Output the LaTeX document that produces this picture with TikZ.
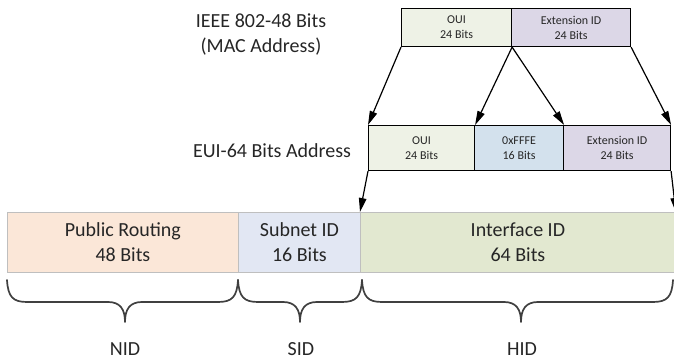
\documentclass[tikz,border=0pt]{standalone}
\usepackage{fontspec}
\setmainfont{Carlito}
\usetikzlibrary{arrows.meta}

\definecolor{ouiFill}{HTML}{EEF2E6}
\definecolor{extFill}{HTML}{DCD7E7}
\definecolor{fffeFill}{HTML}{D3E1ED}
\definecolor{prFill}{HTML}{FBE7D8}
\definecolor{subFill}{HTML}{E2E7F3}
\definecolor{ifFill}{HTML}{E2E8D0}
\definecolor{barEdge}{HTML}{BFBFBF}
\definecolor{braceCol}{HTML}{404040}
\definecolor{txtCol}{HTML}{262626}

\tikzset{
  x=1pt, y=-1pt,
  field/.style={draw=black, line width=1.1pt, anchor=north west, inner sep=0pt,
    align=center, text=txtCol, font=\fontsize{12}{15}\selectfont},
  barfield/.style={draw=barEdge, line width=0.8pt, anchor=north west, inner sep=0pt,
    align=center, text=txtCol, font=\fontsize{20}{25}\selectfont},
  caption/.style={align=center, text=txtCol, font=\fontsize{20}{25}\selectfont},
  link/.style={line width=1.2pt, -{Triangle[length=14pt, width=7.5pt]}},
  bracepath/.style={draw=braceCol, line width=1.7pt, line cap=round, line join=round},
}

% curly brace opening downward, from x=#1 to x=#2, tip at x=#3
\newcommand{\drawbrace}[3]{%
  \draw[bracepath] (#1,280)
    .. controls (#1+1,297) and (#1+6,302) .. (#1+20,302)
    -- (#3-17,302)
    .. controls (#3-5,302) and (#3,309) .. (#3,322)
    .. controls (#3,309) and (#3+5,302) .. (#3+17,302)
    -- (#2-20,302)
    .. controls (#2-6,302) and (#2-1,297) .. (#2,280);%
}

\begin{document}
\begin{tikzpicture}
\useasboundingbox (0,0) rectangle (674,363);

% 48-bit MAC address
\node[field, fill=ouiFill, minimum width=110pt, minimum height=38pt] (mac1) at (401,8) {OUI\\24 Bits};
\node[field, fill=extFill, minimum width=119pt, minimum height=38pt] (mac2) at (511,8) {Extension ID\\24 Bits};
\node[caption] (maclabel) at (261,35) {IEEE 802-48 Bits\\(MAC Address)};

% 64-bit EUI address
\node[field, fill=ouiFill, minimum width=106pt, minimum height=45pt] (eui1) at (368,125) {OUI\\24 Bits};
\node[field, fill=fffeFill, minimum width=89pt, minimum height=45pt] (eui2) at (474,125) {0xFFFE\\16 Bits};
\node[field, fill=extFill, minimum width=107pt, minimum height=45pt] (eui3) at (563,125) {Extension ID\\24 Bits};
\node[caption] (euilabel) at (272,151) {EUI-64 Bits Address};

% 128-bit IPv6 address
\node[barfield, fill=prFill, minimum width=231pt, minimum height=60pt] (pr) at (7,212) {Public Routing\\48 Bits};
\node[barfield, fill=subFill, minimum width=122pt, minimum height=60pt] (sub) at (238,212) {Subnet ID\\16 Bits};
\node[barfield, fill=ifFill, minimum width=315pt, minimum height=60pt] (iface) at (360,212) {Interface ID\\64 Bits};

% mapping arrows
\draw[link] (mac1.south west) -- (eui1.north west);
\draw[link] (mac1.south east) -- (eui1.north east);
\draw[link] (mac1.south east) -- (eui2.north east);
\draw[link] (mac2.south east) -- (eui3.north east);
\draw[link] (eui1.south west) -- (iface.north west);
\draw[link] (eui3.south east) -- (iface.north east);

% braces and their labels
\drawbrace{7}{238}{125}
\drawbrace{238}{362}{300}
\drawbrace{362}{673}{521}
\node[caption] (nid) at (125,349) {NID};
\node[caption] (sid) at (301,349) {SID};
\node[caption] (hid) at (522,349) {HID};
\end{tikzpicture}
\end{document}
